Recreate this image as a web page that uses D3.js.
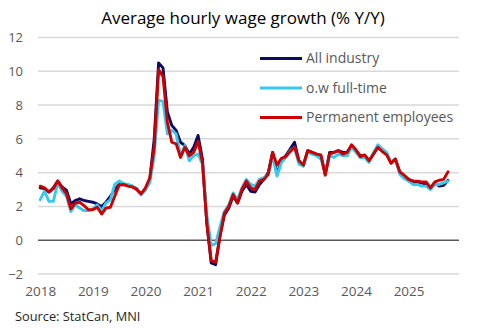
<!DOCTYPE html>
<html>
<head>
<meta charset="utf-8">
<script src="https://cdn.jsdelivr.net/npm/d3@7"></script>
<style>
  html, body { margin: 0; padding: 0; background: #fff; }
  svg { display: block; }
  text { font-family: "Open Sans", "Noto Sans", sans-serif; }
</style>
</head>
<body>
<svg id="chart" width="481" height="329"></svg>
<script>
// ---- Data (monthly, Jan 2018 – Oct 2025) ----
const months = d3.timeMonth.range(new Date(2018, 0, 1), new Date(2025, 10, 1));

const allIndustry = [
  3.1, 3.05, 2.85, 3.1, 3.5, 3.15, 2.95, 2.15, 2.35, 2.45, 2.35, 2.3,
  2.25, 2.15, 2.0, 2.25, 2.6, 3.0, 3.3, 3.3, 3.25, 3.2, 3.05, 2.7,
  3.0, 3.6, 6.0, 10.5, 10.2, 7.6, 6.8, 6.5, 5.8, 5.6, 5.1, 5.5,
  6.2, 4.8, 1.0, -1.35, -1.45, 0.3, 1.5, 1.9, 2.6, 2.2, 2.9, 3.3,
  2.9, 2.85, 3.3, 3.6, 4.0, 5.2, 3.9, 4.7, 5.0, 5.4, 5.8, 4.7,
  4.4, 5.3, 5.2, 5.1, 5.0, 3.9, 5.2, 5.2, 5.3, 5.2, 5.2, 5.6,
  5.3, 5.0, 5.0, 4.7, 5.1, 5.5, 5.3, 5.1, 4.6, 4.8, 4.0, 3.8,
  3.6, 3.5, 3.4, 3.4, 3.3, 3.1, 3.4, 3.2, 3.25, 3.55
];
const fullTime = [
  2.4, 2.9, 2.3, 2.3, 3.4, 2.9, 2.6, 1.7, 2.1, 1.9, 1.75, 1.75,
  1.85, 2.1, 1.75, 2.2, 2.4, 3.3, 3.5, 3.35, 3.3, 3.2, 3.0, 2.7,
  3.0, 3.4, 5.0, 8.3, 8.2, 6.3, 6.5, 6.3, 5.0, 5.6, 4.7, 5.0,
  5.1, 4.5, 1.5, -0.3, -0.2, 0.8, 1.7, 2.1, 2.8, 2.4, 3.1, 3.6,
  3.3, 3.2, 3.6, 3.7, 3.9, 5.0, 3.8, 4.6, 4.9, 5.3, 5.5, 4.5,
  4.4, 5.2, 5.1, 5.0, 4.8, 4.0, 5.0, 4.9, 5.1, 5.0, 5.0, 5.5,
  5.2, 4.9, 4.9, 4.6, 5.2, 5.65, 5.4, 5.2, 4.6, 4.8, 3.9, 3.65,
  3.5, 3.3, 3.3, 3.2, 3.2, 3.0, 3.3, 3.3, 3.4, 3.5
];
const permanent = [
  3.2, 3.1, 2.85, 3.05, 3.5, 3.1, 2.75, 1.85, 2.2, 2.25, 2.05, 1.8,
  1.8, 1.95, 1.55, 1.9, 1.95, 2.6, 3.25, 3.3, 3.2, 3.15, 3.0, 2.75,
  3.1, 3.7, 5.5, 10.1, 9.7, 7.0, 5.8, 5.7, 4.9, 5.5, 5.0, 5.2,
  5.85, 4.6, 1.0, -1.2, -1.3, 0.2, 1.6, 2.0, 2.7, 2.2, 3.0, 3.5,
  3.1, 3.0, 3.5, 3.6, 3.9, 5.2, 4.45, 4.85, 4.95, 5.25, 5.5, 4.7,
  4.45, 5.3, 5.2, 5.1, 5.05, 3.85, 5.1, 5.2, 5.3, 5.1, 5.2, 5.65,
  5.35, 4.95, 5.05, 4.7, 5.1, 5.5, 5.25, 5.05, 4.55, 4.8, 4.05, 3.85,
  3.6, 3.5, 3.5, 3.45, 3.45, 3.1, 3.45, 3.55, 3.6, 4.05
];

const seriesNames = ["All industry", "o.w full-time", "Permanent employees"];
const seriesColors = ["#0c0c5e", "#35c9ee", "#cc0000"];
const yTicks = [-2, 0, 2, 4, 6, 8, 10, 12];
const xTickYears = ["2018", "2019", "2020", "2021", "2022", "2023", "2024", "2025"];

const title = "Average hourly wage growth (% Y/Y)";
const source = "Source: StatCan, MNI";

// ---- Layout ----
const svg = d3.select("#chart");
const plot = { left: 38, right: 459, top: 37.5, bottom: 274 };
const nSlots = 96; // Jan 2018 – Dec 2025

const x = d3.scaleLinear().domain([-0.5, nSlots - 0.5]).range([plot.left, plot.right]);
const y = d3.scaleLinear().domain([-2, 12]).range([plot.bottom, plot.top]);

// title
svg.append("text")
  .attr("x", 243).attr("y", 24)
  .attr("text-anchor", "middle")
  .attr("font-size", 17)
  .attr("fill", "#000")
  .text(title);

// gridlines
svg.append("g").selectAll("line")
  .data(yTicks.filter(d => d !== 0))
  .join("line")
  .attr("x1", plot.left).attr("x2", plot.right)
  .attr("y1", d => y(d)).attr("y2", d => y(d))
  .attr("stroke", "#d9d9d9").attr("stroke-width", 1.5);

// y axis labels
const yAxis = d3.axisLeft(y).tickValues(yTicks).tickSize(0).tickPadding(0);
const gy = svg.append("g").attr("transform", "translate(23,0)").call(yAxis);
gy.select(".domain").remove();
gy.selectAll("text").attr("font-size", 13).attr("fill", "#595959")
  .style("font-family", '"Open Sans", "Noto Sans", sans-serif');

// zero line
svg.append("line")
  .attr("x1", plot.left).attr("x2", plot.right)
  .attr("y1", y(0)).attr("y2", y(0))
  .attr("stroke", "#595959").attr("stroke-width", 1.6);

// x axis labels
const xAxis = d3.axisBottom(x)
  .tickValues(xTickYears.map((d, i) => i * 12))
  .tickFormat((d, i) => xTickYears[i])
  .tickSize(0).tickPadding(0);
const gx = svg.append("g").attr("transform", "translate(0,286)").call(xAxis);
gx.select(".domain").remove();
gx.selectAll("text").attr("font-size", 13.5).attr("fill", "#595959")
  .style("font-family", '"Open Sans", "Noto Sans", sans-serif');

// lines
const allSeries = [allIndustry, fullTime, permanent];
const line = d3.line()
  .x((d, i) => x(i))
  .y(d => y(d))
  .curve(d3.curveLinear);

svg.append("g").selectAll("path")
  .data(allSeries)
  .join("path")
  .attr("d", d => line(d))
  .attr("fill", "none")
  .attr("stroke", (d, i) => seriesColors[i])
  .attr("stroke-width", 2.9)
  .attr("stroke-linejoin", "round")
  .attr("stroke-linecap", "round");

// legend
const legend = svg.append("g");
const legendY = [58.5, 88, 117.5];
seriesNames.forEach((name, i) => {
  legend.append("line")
    .attr("x1", 260).attr("x2", 302)
    .attr("y1", legendY[i]).attr("y2", legendY[i])
    .attr("stroke", seriesColors[i]).attr("stroke-width", 2.8);
  legend.append("text")
    .attr("x", 306).attr("y", legendY[i])
    .attr("dy", "0.35em")
    .attr("font-size", 14)
    .attr("fill", "#595959")
    .text(name);
});

// source
svg.append("text")
  .attr("x", 15).attr("y", 321)
  .attr("font-size", 12.8)
  .attr("fill", "#262626")
  .text(source);
</script>
</body>
</html>
